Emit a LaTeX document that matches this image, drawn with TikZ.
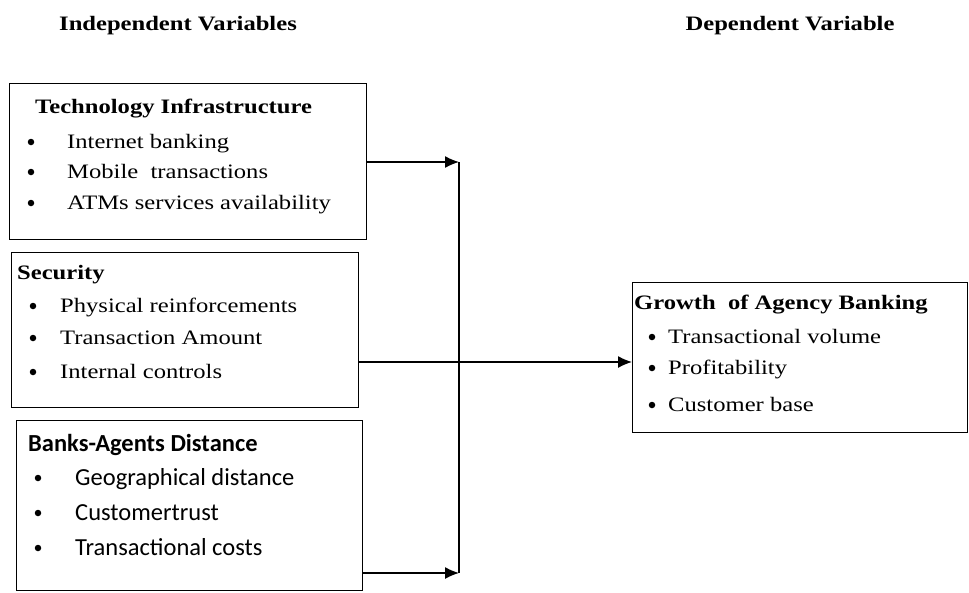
\documentclass[tikz,border=0pt]{standalone}
\usepackage{fontspec}
\setmainfont{Liberation Serif}[FakeStretch=1.2]
\newfontfamily\agentfont{Carlito}
\usetikzlibrary{arrows.meta,positioning}

\begin{document}
\begin{tikzpicture}[x=1pt,y=-1pt,
  every node/.style={font=\fontsize{20.5}{24}\selectfont,inner sep=0pt},
  box/.style={draw,line width=1.3pt,anchor=north west},
  heading/.style={font=\fontsize{20.5}{24}\selectfont\bfseries,anchor=base west},
  item/.style={anchor=base west},
  dot/.style={circle,fill,minimum size=6.5pt},
  sans/.style={font=\fontsize{24.5}{28}\selectfont\agentfont},
  line/.style={line width=1.3pt,-{Latex[length=14pt,width=12pt]}}]

\useasboundingbox (0,0) rectangle (969,592);

\node[heading,anchor=base] (indep) at (178,30) {Independent Variables};
\node[heading,anchor=base] (dep) at (790,30) {Dependent Variable};

% boxes
\node[box,minimum width=357,minimum height=156] (tech) at (9,83) {};
\node[box,minimum width=347,minimum height=155] (sec) at (11,252) {};
\node[box,minimum width=346,minimum height=170] (dist) at (16,420) {};
\node[box,minimum width=335,minimum height=150] (growth) at (632,282) {};

% technology infrastructure
\node[heading] (techhead) at (35,113) {Technology Infrastructure};
\foreach \y/\txt [count=\i] in {148/Internet banking,178/Mobile\ \ transactions,209/ATMs services availability}{
  \node[dot] (techdot\i) at (31,\y-6) {};
  \node[item] (techitem\i) at (67,\y) {\txt};
}

% security
\node[heading] (sechead) at (17,279) {Security};
\foreach \y/\txt [count=\i] in {312/Physical reinforcements,344/Transaction Amount,378/Internal controls}{
  \node[dot] (secdot\i) at (33,\y-6) {};
  \node[item] (secitem\i) at (60,\y) {\txt};
}

% banks-agents distance
\node[heading,sans,font=\fontsize{24.5}{28}\selectfont\agentfont\bfseries] (disthead) at (28,451) {Banks-Agents Distance};
\foreach \y/\txt [count=\i] in {485/Geographical distance,520/Customertrust,555/Transactional costs}{
  \node[dot] (distdot\i) at (38,\y-7) {};
  \node[item,sans] (distitem\i) at (75,\y) {\txt};
}

% growth of agency banking
\node[heading] (growhead) at (634,309) {Growth\ \ of Agency Banking};
\foreach \y/\txt [count=\i] in {343/Transactional volume,374/Profitability,411/Customer base}{
  \node[dot] (growdot\i) at (652,\y-6) {};
  \node[item] (growitem\i) at (668,\y) {\txt};
}

% connectors
\coordinate (bartop) at (459,162);
\coordinate (barbot) at (459,573);
\coordinate (barmid) at (459,362);
\draw[line width=1.3pt] (bartop) -- (barbot);
\draw[line] (tech.east |- bartop) -- (bartop);
\draw[line] (dist.east |- barbot) -- (barbot);
\draw[line] (sec.east |- barmid) -- (growth.west |- barmid);
\end{tikzpicture}
\end{document}
